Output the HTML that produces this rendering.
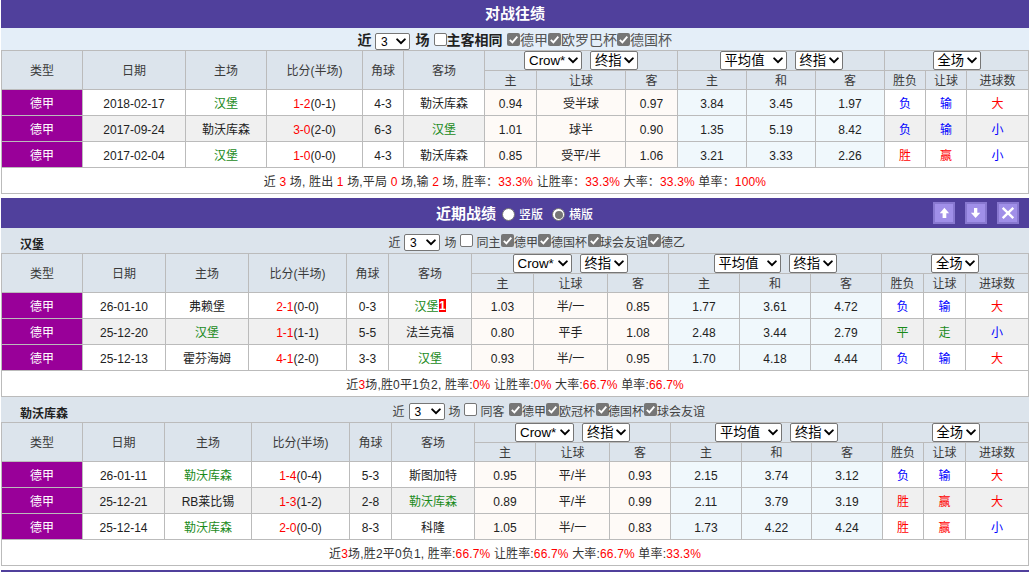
<!DOCTYPE html>
<html lang="zh-CN"><head><meta charset="utf-8"><title>对战往绩</title>
<style>
html,body{margin:0;padding:0;background:#fff}
body{width:1034px;height:572px;overflow:hidden;position:relative;font-family:"Liberation Sans","Noto Sans CJK SC",sans-serif;font-size:12px;color:#222}
#w{position:absolute;left:1px;top:0;width:1028px}
.bar{background:#50409c;color:#fff;font-weight:bold;font-size:15px;text-align:center;position:relative}
.b1{height:28px;line-height:28px}
.b2{height:30px;line-height:30px;margin-top:4px}
.f1{height:22px;background:#e4eef8;font-size:14px;white-space:nowrap;color:#222;position:relative}
.ft{position:absolute;top:0;white-space:nowrap}
.fs{position:absolute;top:6px;line-height:0}
.fc{position:absolute;top:6px;line-height:0}
.f1 .ft{line-height:22px;top:1px}
.f1 .fs,.f1 .fc{top:5px}
.f1 .bd{font-weight:bold}
.strip .ft{line-height:25px;top:3px;font-size:12px;color:#444}
.f1 b{color:#222}
.f1 .lb{color:#555}
.strip{height:25px;background:#dce4ec;position:relative;line-height:25px;white-space:nowrap;color:#444}
.strip .nm{position:absolute;left:19px;top:5px;font-weight:bold;color:#222;font-size:12px}
.strip .fl{position:absolute;top:1px;left:0}
table{border-collapse:separate;border-spacing:0;table-layout:fixed;width:1028px;border-left:1px solid #bbb;border-top:1px solid #bbb}
th,td{border-right:1px solid #bbb;border-bottom:1px solid #bbb;padding:0;text-align:center;font-weight:normal;font-size:12px;overflow:hidden;white-space:nowrap;box-sizing:border-box}
th{background:#dce4ec;color:#3a3a3a}
tr.h1 th{height:39px;line-height:16px;padding-top:1px}
tr.h1 th.g{height:20px;padding:0;line-height:19px;font-size:0}
tr.h2 th{height:19px;line-height:16px;padding-top:1px}
td{height:26px;line-height:16px;padding-top:2px;background:#fff}
tr.alt td{background:#f0f0f0}
td.lg,tr.alt td.lg{background:#909;color:#fff}
td.p,tr.alt td.p{background:#fefaf7}
td.u,tr.alt td.u{background:#f0f8fc}
td.sum,tr.alt td.sum{background:#fff;color:#333;letter-spacing:.16px}
.r{color:#f00}.b{color:#00f}.g{color:#1a8a1a}
.s{display:inline-block;position:relative;height:19px;font-size:13.333px;line-height:17px;margin:0;vertical-align:top;box-sizing:border-box;color:#000;background:#fff;border:1px solid #767676;border-radius:2px;padding:0 0 0 4px;text-align:left;font-weight:normal;white-space:nowrap;overflow:hidden}
.s svg{position:absolute;right:2px;top:5px}
.s.n{height:17px;font-size:12px;line-height:17px;vertical-align:top;padding-left:5px}
.s.n svg{top:4px}
i.gp{display:inline-block;width:8px}
.cb{display:inline-block;width:13px;height:13px;box-sizing:border-box;vertical-align:top;border-radius:2px;position:relative;overflow:hidden}
.cb.off{background:#fff;border:1px solid #767676}
.cb.on{background:#767676}
.cb svg{display:block}
.badge{display:inline-block;background:#f00;color:#fff;font-weight:bold;width:7px;height:13px;line-height:14px;font-size:12px;vertical-align:top;margin-top:0;text-align:center;text-indent:.6px}
.rd{position:absolute;top:10px;width:13px;height:13px;border-radius:50%;background:#fff;box-sizing:border-box;border:1px solid #767676}
.rd.on:after{content:"";position:absolute;left:1.5px;top:1.5px;width:8px;height:8px;border-radius:50%;background:#767676}
.rl{position:absolute;top:2px;font-size:12px;font-weight:500;line-height:31px}
.btn{position:absolute;top:4px;width:22px;height:22px;box-sizing:border-box;background:#a08fe8;border:2px solid #8878d0}
.btn svg{position:absolute;left:0;top:0}
</style></head><body>
<div id="w">
<div class="bar b1">对战往绩</div>
<div class="f1"><span class="ft bd" style="left:356.5px">近</span><span class="fs" style="left:374px"><span class="s n" style="width:35px">3<svg viewBox="0 0 12 8" width="12" height="8"><path d="M2.2 1.4 L6 5.1 L9.8 1.4" fill="none" stroke="#000" stroke-width="2" stroke-linecap="round" stroke-linejoin="miter"/></svg></span></span><span class="ft bd" style="left:414.5px">场</span><span class="fc" style="left:433px"><span class="cb off"></span></span><span class="ft bd" style="left:445.5px">主客相同</span><span class="fc" style="left:506px"><span class="cb on"><svg viewBox="0 0 13 13" width="13" height="13"><path d="M2.8 6.9 L5.4 9.4 L10.3 3.6" fill="none" stroke="#fff" stroke-width="1.9" stroke-linecap="butt" stroke-linejoin="miter"/></svg></span></span><span class="ft lb" style="left:519px">德甲</span><span class="fc" style="left:547px"><span class="cb on"><svg viewBox="0 0 13 13" width="13" height="13"><path d="M2.8 6.9 L5.4 9.4 L10.3 3.6" fill="none" stroke="#fff" stroke-width="1.9" stroke-linecap="butt" stroke-linejoin="miter"/></svg></span></span><span class="ft lb" style="left:560px">欧罗巴杯</span><span class="fc" style="left:616px"><span class="cb on"><svg viewBox="0 0 13 13" width="13" height="13"><path d="M2.8 6.9 L5.4 9.4 L10.3 3.6" fill="none" stroke="#fff" stroke-width="1.9" stroke-linecap="butt" stroke-linejoin="miter"/></svg></span></span><span class="ft lb" style="left:629px">德国杯</span></div>
<table><colgroup><col style="width:81px"><col style="width:103px"><col style="width:81px"><col style="width:96px"><col style="width:41px"><col style="width:81px"><col style="width:52px"><col style="width:89px"><col style="width:52px"><col style="width:69px"><col style="width:69px"><col style="width:69px"><col style="width:41px"><col style="width:41px"><col style="width:62px"></colgroup>
<tr class="h1"><th rowspan="2">类型</th><th rowspan="2">日期</th><th rowspan="2">主场</th><th rowspan="2">比分(半场)</th><th rowspan="2">角球</th><th rowspan="2">客场</th><th colspan="3" class="g"><span class="s " style="width:58px">Crow*<svg viewBox="0 0 12 8" width="12" height="8"><path d="M2.2 1.4 L6 5.1 L9.8 1.4" fill="none" stroke="#000" stroke-width="2" stroke-linecap="round" stroke-linejoin="miter"/></svg></span><i class="gp"></i><span class="s " style="width:48px">终指<svg viewBox="0 0 12 8" width="12" height="8"><path d="M2.2 1.4 L6 5.1 L9.8 1.4" fill="none" stroke="#000" stroke-width="2" stroke-linecap="round" stroke-linejoin="miter"/></svg></span></th><th colspan="3" class="g"><span class="s " style="width:67px">平均值<svg viewBox="0 0 12 8" width="12" height="8"><path d="M2.2 1.4 L6 5.1 L9.8 1.4" fill="none" stroke="#000" stroke-width="2" stroke-linecap="round" stroke-linejoin="miter"/></svg></span><i class="gp"></i><span class="s " style="width:48px">终指<svg viewBox="0 0 12 8" width="12" height="8"><path d="M2.2 1.4 L6 5.1 L9.8 1.4" fill="none" stroke="#000" stroke-width="2" stroke-linecap="round" stroke-linejoin="miter"/></svg></span></th><th colspan="3" class="g"><span class="s " style="width:48px">全场<svg viewBox="0 0 12 8" width="12" height="8"><path d="M2.2 1.4 L6 5.1 L9.8 1.4" fill="none" stroke="#000" stroke-width="2" stroke-linecap="round" stroke-linejoin="miter"/></svg></span></th></tr>
<tr class="h2"><th>主</th><th>让球</th><th>客</th><th>主</th><th>和</th><th>客</th><th>胜负</th><th>让球</th><th>进球数</th></tr>
<tr><td class="lg">德甲</td><td>2018-02-17</td><td><span class="g">汉堡</span></td><td><span class="r">1-2</span>(0-1)</td><td>4-3</td><td><span>勒沃库森</span></td><td class="p">0.94</td><td class="p">受半球</td><td class="p">0.97</td><td class="u">3.84</td><td class="u">3.45</td><td class="u">1.97</td><td><span class="b">负</span></td><td><span class="b">输</span></td><td><span class="r">大</span></td></tr>
<tr class="alt"><td class="lg">德甲</td><td>2017-09-24</td><td><span>勒沃库森</span></td><td><span class="r">3-0</span>(2-0)</td><td>6-3</td><td><span class="g">汉堡</span></td><td class="p">1.01</td><td class="p">球半</td><td class="p">0.90</td><td class="u">1.35</td><td class="u">5.19</td><td class="u">8.42</td><td><span class="b">负</span></td><td><span class="b">输</span></td><td><span class="b">小</span></td></tr>
<tr><td class="lg">德甲</td><td>2017-02-04</td><td><span class="g">汉堡</span></td><td><span class="r">1-0</span>(0-0)</td><td>4-3</td><td><span>勒沃库森</span></td><td class="p">0.85</td><td class="p">受平/半</td><td class="p">1.06</td><td class="u">3.21</td><td class="u">3.33</td><td class="u">2.26</td><td><span class="r">胜</span></td><td><span class="r">赢</span></td><td><span class="b">小</span></td></tr>
<tr><td class="sum" colspan="15">近 <span class="r">3</span> 场, 胜出 <span class="r">1</span> 场,平局 <span class="r">0</span> 场,输 <span class="r">2</span> 场, 胜率：<span class="r">33.3%</span> 让胜率：<span class="r">33.3%</span> 大率：<span class="r">33.3%</span> 单率：<span class="r">100%</span></td></tr>
</table>
<div class="bar b2"><span class="ttl" style="position:absolute;left:435px;top:1px">近期战绩</span><span class="rd" style="left:501px"></span><span class="rl" style="left:518px">竖版</span><span class="rd on" style="left:551px"></span><span class="rl" style="left:568px">横版</span>
<span class="btn" style="left:932px"><svg width="18" height="18" viewBox="0 0 18 18"><path d="M9.4 3.7 L14.1 9.2 L11.3 9.2 L11.3 14.1 L7.6 14.1 L7.6 9.2 L4.8 9.2 Z" fill="#fff"/></svg></span>
<span class="btn" style="left:964px"><svg width="18" height="18" viewBox="0 0 18 18"><path d="M8.6 14.1 L13.3 8.8 L10.3 8.8 L10.3 3.9 L7 3.9 L7 8.8 L3.9 8.8 Z" fill="#fff"/></svg></span>
<span class="btn" style="left:996px"><svg width="18" height="18" viewBox="0 0 18 18"><path d="M3.7 3.8 L14.3 14.2 M14.3 3.8 L3.7 14.2" stroke="#fff" stroke-width="2.4" fill="none"/></svg></span>
</div>
<div class="strip"><span class="nm">汉堡</span><span class="ft " style="left:387.5px">近</span><span class="fs" style="left:403px"><span class="s n" style="width:36px">3<svg viewBox="0 0 12 8" width="12" height="8"><path d="M2.2 1.4 L6 5.1 L9.8 1.4" fill="none" stroke="#000" stroke-width="2" stroke-linecap="round" stroke-linejoin="miter"/></svg></span></span><span class="ft " style="left:443.5px">场</span><span class="fc" style="left:459px"><span class="cb off"></span></span><span class="ft " style="left:475.5px">同主</span><span class="fc" style="left:500px"><span class="cb on"><svg viewBox="0 0 13 13" width="13" height="13"><path d="M2.8 6.9 L5.4 9.4 L10.3 3.6" fill="none" stroke="#fff" stroke-width="1.9" stroke-linecap="butt" stroke-linejoin="miter"/></svg></span></span><span class="ft " style="left:513px">德甲</span><span class="fc" style="left:537px"><span class="cb on"><svg viewBox="0 0 13 13" width="13" height="13"><path d="M2.8 6.9 L5.4 9.4 L10.3 3.6" fill="none" stroke="#fff" stroke-width="1.9" stroke-linecap="butt" stroke-linejoin="miter"/></svg></span></span><span class="ft " style="left:550px">德国杯</span><span class="fc" style="left:586.5px"><span class="cb on"><svg viewBox="0 0 13 13" width="13" height="13"><path d="M2.8 6.9 L5.4 9.4 L10.3 3.6" fill="none" stroke="#fff" stroke-width="1.9" stroke-linecap="butt" stroke-linejoin="miter"/></svg></span></span><span class="ft " style="left:599px">球会友谊</span><span class="fc" style="left:647px"><span class="cb on"><svg viewBox="0 0 13 13" width="13" height="13"><path d="M2.8 6.9 L5.4 9.4 L10.3 3.6" fill="none" stroke="#fff" stroke-width="1.9" stroke-linecap="butt" stroke-linejoin="miter"/></svg></span></span><span class="ft " style="left:660px">德乙</span></div>
<table><colgroup><col style="width:81px"><col style="width:83px"><col style="width:83px"><col style="width:98px"><col style="width:42px"><col style="width:83px"><col style="width:62px"><col style="width:74px"><col style="width:61px"><col style="width:71px"><col style="width:71px"><col style="width:71px"><col style="width:42px"><col style="width:42px"><col style="width:63px"></colgroup>
<tr class="h1"><th rowspan="2">类型</th><th rowspan="2">日期</th><th rowspan="2">主场</th><th rowspan="2">比分(半场)</th><th rowspan="2">角球</th><th rowspan="2">客场</th><th colspan="3" class="g"><span class="s " style="width:59px">Crow*<svg viewBox="0 0 12 8" width="12" height="8"><path d="M2.2 1.4 L6 5.1 L9.8 1.4" fill="none" stroke="#000" stroke-width="2" stroke-linecap="round" stroke-linejoin="miter"/></svg></span><i class="gp"></i><span class="s " style="width:48px">终指<svg viewBox="0 0 12 8" width="12" height="8"><path d="M2.2 1.4 L6 5.1 L9.8 1.4" fill="none" stroke="#000" stroke-width="2" stroke-linecap="round" stroke-linejoin="miter"/></svg></span></th><th colspan="3" class="g"><span class="s " style="width:67px">平均值<svg viewBox="0 0 12 8" width="12" height="8"><path d="M2.2 1.4 L6 5.1 L9.8 1.4" fill="none" stroke="#000" stroke-width="2" stroke-linecap="round" stroke-linejoin="miter"/></svg></span><i class="gp"></i><span class="s " style="width:48px">终指<svg viewBox="0 0 12 8" width="12" height="8"><path d="M2.2 1.4 L6 5.1 L9.8 1.4" fill="none" stroke="#000" stroke-width="2" stroke-linecap="round" stroke-linejoin="miter"/></svg></span></th><th colspan="3" class="g"><span class="s " style="width:48px">全场<svg viewBox="0 0 12 8" width="12" height="8"><path d="M2.2 1.4 L6 5.1 L9.8 1.4" fill="none" stroke="#000" stroke-width="2" stroke-linecap="round" stroke-linejoin="miter"/></svg></span></th></tr>
<tr class="h2"><th>主</th><th>让球</th><th>客</th><th>主</th><th>和</th><th>客</th><th>胜负</th><th>让球</th><th>进球数</th></tr>
<tr><td class="lg">德甲</td><td>26-01-10</td><td><span>弗赖堡</span></td><td><span class="r">2-1</span>(0-0)</td><td>0-3</td><td><span class="g">汉堡</span><span class="badge">1</span></td><td class="p">1.03</td><td class="p">半/一</td><td class="p">0.85</td><td class="u">1.77</td><td class="u">3.61</td><td class="u">4.72</td><td><span class="b">负</span></td><td><span class="b">输</span></td><td><span class="r">大</span></td></tr>
<tr class="alt"><td class="lg">德甲</td><td>25-12-20</td><td><span class="g">汉堡</span></td><td><span class="r">1-1</span>(1-1)</td><td>5-5</td><td><span>法兰克福</span></td><td class="p">0.80</td><td class="p">平手</td><td class="p">1.08</td><td class="u">2.48</td><td class="u">3.44</td><td class="u">2.79</td><td><span class="g">平</span></td><td><span class="g">走</span></td><td><span class="b">小</span></td></tr>
<tr><td class="lg">德甲</td><td>25-12-13</td><td><span>霍芬海姆</span></td><td><span class="r">4-1</span>(2-0)</td><td>3-3</td><td><span class="g">汉堡</span></td><td class="p">0.93</td><td class="p">半/一</td><td class="p">0.95</td><td class="u">1.70</td><td class="u">4.18</td><td class="u">4.44</td><td><span class="b">负</span></td><td><span class="b">输</span></td><td><span class="r">大</span></td></tr>
<tr><td class="sum" colspan="15">近<span class="r">3</span>场,胜0平1负2, 胜率:<span class="r">0%</span> 让胜率:<span class="r">0%</span> 大率:<span class="r">66.7%</span> 单率:<span class="r">66.7%</span></td></tr>
</table>
<div class="strip"><span class="nm">勒沃库森</span><span class="ft " style="left:391.5px">近</span><span class="fs" style="left:407.5px"><span class="s n" style="width:36px">3<svg viewBox="0 0 12 8" width="12" height="8"><path d="M2.2 1.4 L6 5.1 L9.8 1.4" fill="none" stroke="#000" stroke-width="2" stroke-linecap="round" stroke-linejoin="miter"/></svg></span></span><span class="ft " style="left:447.5px">场</span><span class="fc" style="left:463px"><span class="cb off"></span></span><span class="ft " style="left:479.5px">同客</span><span class="fc" style="left:508px"><span class="cb on"><svg viewBox="0 0 13 13" width="13" height="13"><path d="M2.8 6.9 L5.4 9.4 L10.3 3.6" fill="none" stroke="#fff" stroke-width="1.9" stroke-linecap="butt" stroke-linejoin="miter"/></svg></span></span><span class="ft " style="left:521px">德甲</span><span class="fc" style="left:545px"><span class="cb on"><svg viewBox="0 0 13 13" width="13" height="13"><path d="M2.8 6.9 L5.4 9.4 L10.3 3.6" fill="none" stroke="#fff" stroke-width="1.9" stroke-linecap="butt" stroke-linejoin="miter"/></svg></span></span><span class="ft " style="left:558px">欧冠杯</span><span class="fc" style="left:594.5px"><span class="cb on"><svg viewBox="0 0 13 13" width="13" height="13"><path d="M2.8 6.9 L5.4 9.4 L10.3 3.6" fill="none" stroke="#fff" stroke-width="1.9" stroke-linecap="butt" stroke-linejoin="miter"/></svg></span></span><span class="ft " style="left:607px">德国杯</span><span class="fc" style="left:643px"><span class="cb on"><svg viewBox="0 0 13 13" width="13" height="13"><path d="M2.8 6.9 L5.4 9.4 L10.3 3.6" fill="none" stroke="#fff" stroke-width="1.9" stroke-linecap="butt" stroke-linejoin="miter"/></svg></span></span><span class="ft " style="left:656px">球会友谊</span></div>
<table><colgroup><col style="width:81px"><col style="width:82px"><col style="width:87px"><col style="width:98px"><col style="width:42px"><col style="width:83px"><col style="width:61px"><col style="width:74px"><col style="width:61px"><col style="width:71px"><col style="width:70px"><col style="width:71px"><col style="width:41px"><col style="width:42px"><col style="width:63px"></colgroup>
<tr class="h1"><th rowspan="2">类型</th><th rowspan="2">日期</th><th rowspan="2">主场</th><th rowspan="2">比分(半场)</th><th rowspan="2">角球</th><th rowspan="2">客场</th><th colspan="3" class="g"><span class="s " style="width:59px">Crow*<svg viewBox="0 0 12 8" width="12" height="8"><path d="M2.2 1.4 L6 5.1 L9.8 1.4" fill="none" stroke="#000" stroke-width="2" stroke-linecap="round" stroke-linejoin="miter"/></svg></span><i class="gp"></i><span class="s " style="width:48px">终指<svg viewBox="0 0 12 8" width="12" height="8"><path d="M2.2 1.4 L6 5.1 L9.8 1.4" fill="none" stroke="#000" stroke-width="2" stroke-linecap="round" stroke-linejoin="miter"/></svg></span></th><th colspan="3" class="g"><span class="s " style="width:67px">平均值<svg viewBox="0 0 12 8" width="12" height="8"><path d="M2.2 1.4 L6 5.1 L9.8 1.4" fill="none" stroke="#000" stroke-width="2" stroke-linecap="round" stroke-linejoin="miter"/></svg></span><i class="gp"></i><span class="s " style="width:48px">终指<svg viewBox="0 0 12 8" width="12" height="8"><path d="M2.2 1.4 L6 5.1 L9.8 1.4" fill="none" stroke="#000" stroke-width="2" stroke-linecap="round" stroke-linejoin="miter"/></svg></span></th><th colspan="3" class="g"><span class="s " style="width:48px">全场<svg viewBox="0 0 12 8" width="12" height="8"><path d="M2.2 1.4 L6 5.1 L9.8 1.4" fill="none" stroke="#000" stroke-width="2" stroke-linecap="round" stroke-linejoin="miter"/></svg></span></th></tr>
<tr class="h2"><th>主</th><th>让球</th><th>客</th><th>主</th><th>和</th><th>客</th><th>胜负</th><th>让球</th><th>进球数</th></tr>
<tr><td class="lg">德甲</td><td>26-01-11</td><td><span class="g">勒沃库森</span></td><td><span class="r">1-4</span>(0-4)</td><td>5-3</td><td><span>斯图加特</span></td><td class="p">0.95</td><td class="p">平/半</td><td class="p">0.93</td><td class="u">2.15</td><td class="u">3.74</td><td class="u">3.12</td><td><span class="b">负</span></td><td><span class="b">输</span></td><td><span class="r">大</span></td></tr>
<tr class="alt"><td class="lg">德甲</td><td>25-12-21</td><td><span>RB莱比锡</span></td><td><span class="r">1-3</span>(1-2)</td><td>2-8</td><td><span class="g">勒沃库森</span></td><td class="p">0.89</td><td class="p">平/半</td><td class="p">0.99</td><td class="u">2.11</td><td class="u">3.79</td><td class="u">3.19</td><td><span class="r">胜</span></td><td><span class="r">赢</span></td><td><span class="r">大</span></td></tr>
<tr><td class="lg">德甲</td><td>25-12-14</td><td><span class="g">勒沃库森</span></td><td><span class="r">2-0</span>(0-0)</td><td>8-3</td><td><span>科隆</span></td><td class="p">1.05</td><td class="p">半/一</td><td class="p">0.83</td><td class="u">1.73</td><td class="u">4.22</td><td class="u">4.24</td><td><span class="r">胜</span></td><td><span class="r">赢</span></td><td><span class="b">小</span></td></tr>
<tr><td class="sum" colspan="15">近<span class="r">3</span>场,胜2平0负1, 胜率:<span class="r">66.7%</span> 让胜率:<span class="r">66.7%</span> 大率:<span class="r">66.7%</span> 单率:<span class="r">33.3%</span></td></tr>
</table>
<div class="bar" style="height:10px;margin-top:4px"></div>
</div>
</body></html>
